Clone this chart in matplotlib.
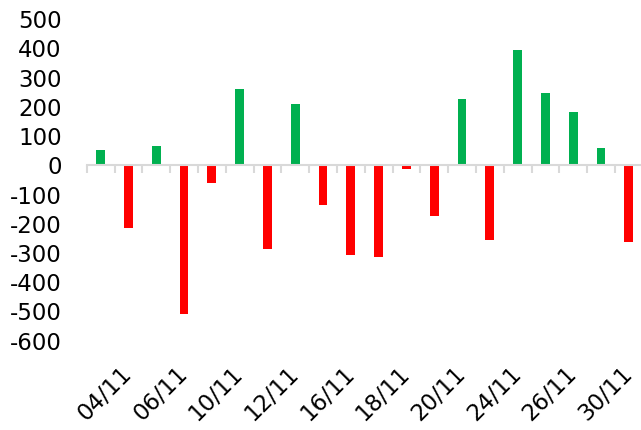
import numpy as np
import matplotlib
matplotlib.use('Agg')
import matplotlib.pyplot as plt

# daily values, November business days
dates = ['03/11', '04/11', '05/11', '06/11', '09/11', '10/11', '11/11', '12/11',
         '13/11', '16/11', '17/11', '18/11', '19/11', '20/11', '23/11', '24/11',
         '25/11', '26/11', '27/11', '30/11']
values = [53, -216, 66, -510, -62, 261, -285, 210, -137, -308,
          -312, -14, -175, 227, -254, 395, 248, 183, 60, -264]

x = np.arange(len(dates))
colors = ['#00B050' if v >= 0 else '#FF0000' for v in values]

plt.rcParams['font.family'] = 'DejaVu Sans'
plt.rcParams['axes.unicode_minus'] = False
fig = plt.figure(figsize=(6.41, 4.30), dpi=100)
ax = fig.add_axes([0.1353, 0.2077, 0.8674, 0.7476])

ax.bar(x, values, width=0.32, color=colors)
ax.set_xlim(-0.5, len(dates) - 0.5)
ax.set_ylim(-600, 500)
ax.set_yticks(range(-600, 501, 100))
ax.tick_params(axis='y', length=0, pad=18, labelsize=16.5)
for s in ax.spines.values():
    s.set_visible(False)

# date labels under the plot (every second day)
ax.set_xticks(x[1::2], dates[1::2])
ax.tick_params(axis='x', length=0, pad=21, labelsize=16.5)
plt.setp(ax.get_xticklabels(), rotation=45, ha='right', va='center',
         rotation_mode='anchor')

# zero line with tick marks between categories
zero = ax.secondary_xaxis(600 / 1100)
zero.set_zorder(3)
zero.set_xticks(np.arange(len(dates) + 1) - 0.5)
zero.tick_params(axis='x', which='both', length=6, width=1.5, color='#D9D9D9',
                 direction='in', labeltop=False, labelbottom=False)
for s in zero.spines.values():
    s.set_color('#D9D9D9')
    s.set_linewidth(1.5)

fig.savefig('out.png', dpi=100)
